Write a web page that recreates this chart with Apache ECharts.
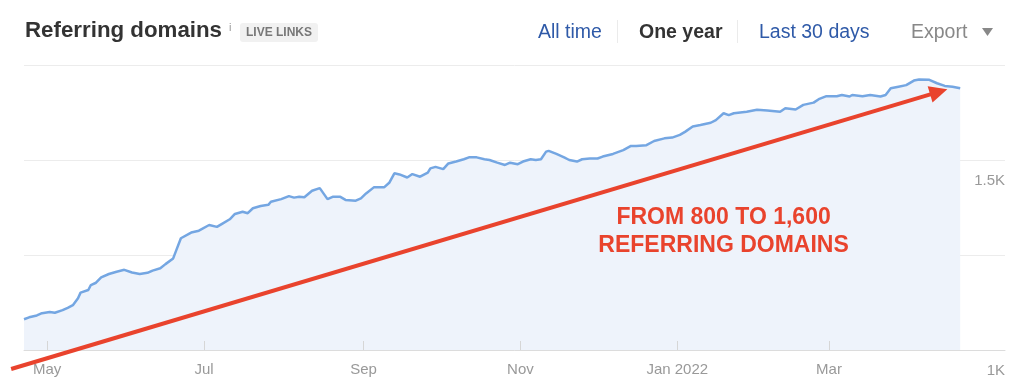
<!DOCTYPE html>
<html>
<head>
<meta charset="utf-8">
<script src="https://cdn.jsdelivr.net/npm/echarts@6/dist/echarts.min.js"></script>
<style>
html,body{margin:0;padding:0;background:#fff;}
#chart{width:1024px;height:392px;}
</style>
</head>
<body>
<div id="chart"></div>
<script>
// ---- data ----
const dates = [
'2021-04-22','2021-04-24','2021-04-27','2021-04-29','2021-05-02','2021-05-04','2021-05-07','2021-05-09','2021-05-11','2021-05-13',
'2021-05-14','2021-05-17','2021-05-18','2021-05-20','2021-05-22','2021-05-25','2021-05-28','2021-05-31','2021-06-03','2021-06-06',
'2021-06-09','2021-06-11','2021-06-14','2021-06-16','2021-06-19','2021-06-20','2021-06-22','2021-06-26','2021-06-29','2021-07-03',
'2021-07-06','2021-07-08','2021-07-11','2021-07-13','2021-07-16','2021-07-18','2021-07-20','2021-07-23','2021-07-26','2021-07-27',
'2021-07-31','2021-08-03','2021-08-05','2021-08-07','2021-08-09','2021-08-12','2021-08-15','2021-08-18','2021-08-20','2021-08-23',
'2021-08-25','2021-08-29','2021-08-31','2021-09-02','2021-09-05','2021-09-09','2021-09-11','2021-09-13','2021-09-15','2021-09-18',
'2021-09-20','2021-09-23','2021-09-26','2021-09-27','2021-09-29','2021-10-02','2021-10-04','2021-10-07','2021-10-10','2021-10-12',
'2021-10-15','2021-10-18','2021-10-20','2021-10-23','2021-10-26','2021-10-28','2021-10-31','2021-11-02','2021-11-05','2021-11-07',
'2021-11-09','2021-11-11','2021-11-12','2021-11-15','2021-11-18','2021-11-20','2021-11-23','2021-11-25','2021-11-28','2021-12-01',
'2021-12-03','2021-12-07','2021-12-11','2021-12-14','2021-12-16','2021-12-20','2021-12-23','2021-12-27','2021-12-30','2022-01-02',
'2022-01-04','2022-01-07','2022-01-10','2022-01-14','2022-01-16','2022-01-19','2022-01-21','2022-01-23','2022-01-28','2022-02-01',
'2022-02-05','2022-02-10','2022-02-12','2022-02-16','2022-02-19','2022-02-23','2022-02-25','2022-02-28','2022-03-04','2022-03-06',
'2022-03-09','2022-03-10','2022-03-14','2022-03-17','2022-03-21','2022-03-23','2022-03-25','2022-03-28','2022-03-31','2022-04-03',
'2022-04-05','2022-04-09','2022-04-12','2022-04-15','2022-04-18','2022-04-21'
];
const referringDomains = [
1081,1086,1091,1097,1100,1098,1105,1111,1118,1136,
1151,1158,1171,1177,1191,1200,1206,1211,1204,1200,
1203,1209,1215,1226,1241,1259,1294,1309,1314,1329,
1324,1332,1344,1358,1364,1360,1373,1379,1382,1390,
1397,1405,1401,1403,1402,1419,1426,1397,1403,1403,
1395,1393,1399,1412,1428,1428,1440,1465,1462,1454,
1463,1456,1467,1478,1482,1476,1491,1496,1502,1507,
1507,1502,1500,1493,1487,1493,1489,1496,1502,1500,
1502,1522,1524,1516,1507,1500,1496,1502,1504,1504,
1509,1516,1526,1537,1537,1539,1550,1557,1559,1566,
1574,1588,1592,1598,1605,1623,1618,1623,1627,1632,
1630,1627,1636,1633,1645,1651,1660,1668,1668,1671,
1667,1671,1668,1671,1667,1671,1689,1693,1697,1709,
1712,1711,1702,1695,1693,1689
];
const tickDates = ['2021-05-01','2021-07-01','2021-09-01','2021-11-01','2022-01-01','2022-03-01'];
const tickLabels = ['May','Jul','Sep','Nov','Jan 2022','Mar'];
const yTickValues = [1000, 1500];
const yTickLabels = ['1K', '1.5K'];
const axisStart = '2021-04-22';
const axisEnd = '2022-05-08';
const annotationText = 'FROM 800 TO 1,600\nREFERRING DOMAINS';
const arrowFrom = ['2021-04-17', 950];
const arrowTo = ['2022-04-16', 1686];
const textAt = ['2022-01-19', 1311];

// ---- helpers ----
function ts(s) { const p = s.split('-').map(Number); return new Date(p[0], p[1] - 1, p[2]).getTime(); }
const FONT = '"Liberation Sans", Arial, Helvetica, sans-serif';
const xLabelMap = {}; tickDates.forEach((d, i) => { xLabelMap[ts(d)] = tickLabels[i]; });
const yLabelMap = {}; yTickValues.forEach((v, i) => { yLabelMap[v] = yTickLabels[i]; });

const chart = echarts.init(document.getElementById('chart'), null, { renderer: 'canvas' });

function txt(x, y, text, opt) {
  return {
    type: 'text', x: x, y: y, silent: true,
    style: Object.assign({
      text: text, fontFamily: FONT, fontSize: 19.5, fill: '#333',
      align: 'left', verticalAlign: 'middle', textAlign: 'left', textVerticalAlign: 'middle'
    }, opt || {})
  };
}

const headerGraphics = [
  txt(25, 31, 'Referring domains', { fontSize: 22.3, fontWeight: 'bold', fill: '#333' }),
  txt(229, 27.5, 'i', { fontSize: 11, fill: '#999' }),
  { type: 'rect', silent: true, shape: { x: 240, y: 23, width: 78, height: 19, r: 3 }, style: { fill: '#f1f1f1' } },
  txt(279, 33, 'LIVE LINKS', { fontSize: 12, fontWeight: 'bold', fill: '#777', align: 'center', textAlign: 'center' }),
  txt(538, 33, 'All time', { fill: '#2f5aa8' }),
  { type: 'line', silent: true, shape: { x1: 617.5, y1: 20, x2: 617.5, y2: 43 }, style: { stroke: '#ebebeb', lineWidth: 1 } },
  txt(639, 33, 'One year', { fontWeight: 'bold', fill: '#333' }),
  { type: 'line', silent: true, shape: { x1: 737.5, y1: 20, x2: 737.5, y2: 43 }, style: { stroke: '#ebebeb', lineWidth: 1 } },
  txt(759, 33, 'Last 30 days', { fill: '#2f5aa8' }),
  txt(911, 33, 'Export', { fill: '#888' }),
  { type: 'polygon', silent: true, shape: { points: [[982, 28], [993, 28], [987.5, 36]] }, style: { fill: '#888' } }
];

chart.setOption({
  animation: false,
  backgroundColor: '#fff',
  grid: { left: 24, right: 19, top: 65, bottom: 42, containLabel: false },
  xAxis: {
    type: 'value',
    z: 5,
    min: ts(axisStart),
    max: ts(axisEnd) + 10 * 3600e3,
    axisLine: { show: true, lineStyle: { color: '#dcdcdc', width: 1 } },
    axisTick: { show: true, inside: true, length: 9, customValues: tickDates.map(ts), lineStyle: { color: '#d6d6d6', width: 1 } },
    axisLabel: {
      customValues: tickDates.map(ts),
      formatter: function (v) { return xLabelMap[v] || ''; },
      color: '#999', fontSize: 15, fontFamily: FONT, margin: 12,
      hideOverlap: false
    },
    splitLine: { show: false }
  },
  yAxis: {
    type: 'value',
    position: 'right',
    min: 1000, max: 1750, interval: 250,
    axisLine: { show: false },
    axisTick: { show: false },
    splitLine: { show: true, lineStyle: { color: '#ececec', width: 1 } },
    axisLabel: {
      inside: true, margin: 0,
      customValues: yTickValues,
      formatter: function (v) { return yLabelMap[v] || ''; },
      color: '#999', fontSize: 15, fontFamily: FONT,
      verticalAlign: 'top', padding: [13, 0, 0, 0]
    }
  },
  series: [{
    type: 'line',
    data: dates.map((d, i) => [ts(d), referringDomains[i]]),
    showSymbol: false,
    smooth: false,
    lineStyle: { color: '#74a6e2', width: 2.5 },
    areaStyle: { color: '#eef3fb', opacity: 1 },
    z: 2
  }],
  graphic: headerGraphics
});

// annotation anchored in data coordinates
const p0 = chart.convertToPixel({ gridIndex: 0 }, [ts(arrowFrom[0]), arrowFrom[1]]);
const p1 = chart.convertToPixel({ gridIndex: 0 }, [ts(arrowTo[0]), arrowTo[1]]);
const pt = chart.convertToPixel({ gridIndex: 0 }, [ts(textAt[0]), textAt[1]]);
const dx = p1[0] - p0[0], dy = p1[1] - p0[1];
const len = Math.sqrt(dx * dx + dy * dy);
const ux = dx / len, uy = dy / len;
const headLen = 18, headHalf = 8.5;
const bx = p1[0] - ux * headLen, by = p1[1] - uy * headLen;
const RED = '#e9432d';
chart.setOption({
  graphic: headerGraphics.concat([
    { type: 'line', silent: true, z: 10, shape: { x1: p0[0], y1: p0[1], x2: bx + ux * 2, y2: by + uy * 2 }, style: { stroke: RED, lineWidth: 4 } },
    { type: 'polygon', silent: true, z: 10, shape: { points: [[p1[0], p1[1]], [bx - uy * headHalf, by + ux * headHalf], [bx + uy * headHalf, by - ux * headHalf]] }, style: { fill: RED } },
    { type: 'text', silent: true, z: 10, x: pt[0], y: pt[1], style: { text: annotationText, fontFamily: FONT, fontSize: 23, fontWeight: 'bold', fill: RED, lineHeight: 28.5, align: 'center', verticalAlign: 'middle', textAlign: 'center', textVerticalAlign: 'middle' } }
  ])
});
</script>
</body>
</html>
